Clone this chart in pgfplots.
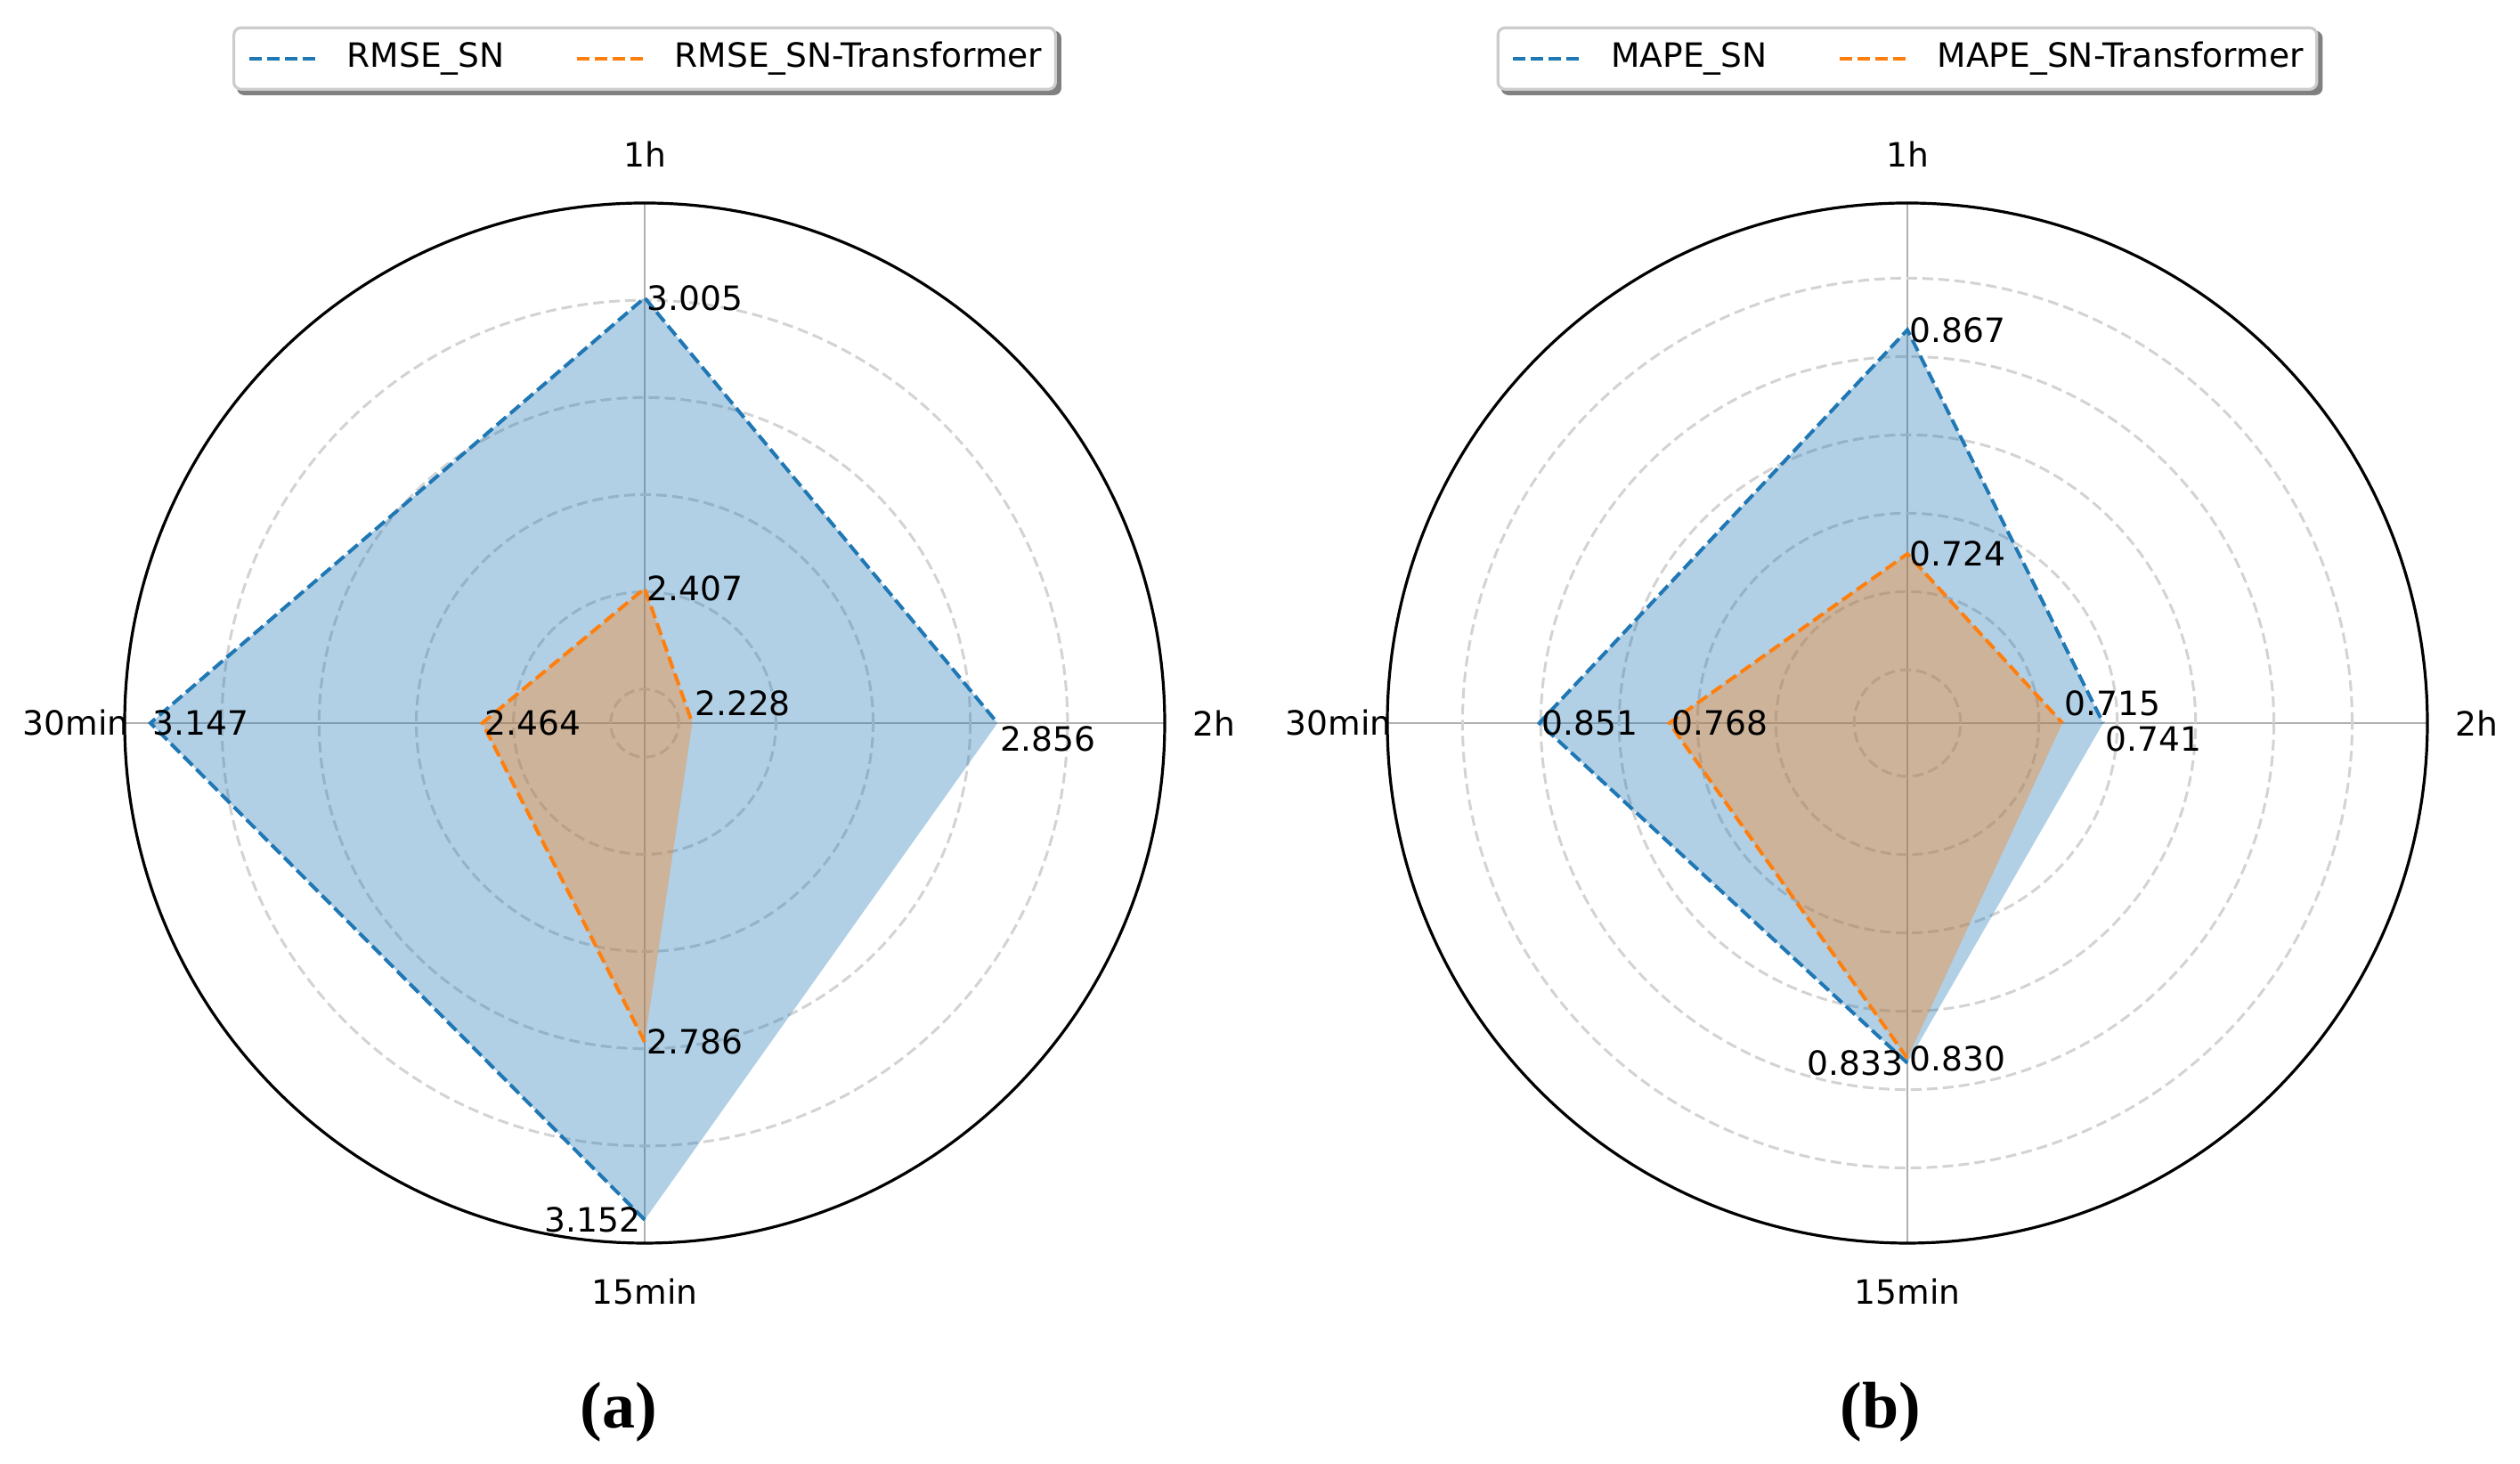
\documentclass[border=0pt]{standalone}
\usepackage{pgfplots}
\pgfplotsset{compat=1.18}
\usepgfplotslibrary{polar}
\usetikzlibrary{backgrounds}
\usepackage{fontspec}
\setmainfont{DejaVu Sans}
\newfontfamily\capfont{Liberation Serif}
\definecolor{tabblue}{HTML}{1F77B4}
\definecolor{taborange}{HTML}{FF7F0E}
\definecolor{spoke}{HTML}{B0B0B0}
\definecolor{ring}{HTML}{D3D3D3}
\tikzset{lbl/.style={inner sep=0pt, font=\fontsize{9.4}{11}\selectfont}}
\pgfplotsset{
  radar/.style={
    width=292pt, height=292pt, scale only axis,
    xmin=0, xmax=360,
    xtick={0,90,180,270}, xticklabels={},
    yticklabels={},
    xmajorgrids, ymajorgrids,
    major tick length=0pt,
    x grid style={spoke, line width=0.65pt, solid},
    y grid style={ring, line width=0.75pt, dash pattern=on 3pt off 1.5pt},
    axis line style={black, line width=0.8pt},
    y axis line style={draw=none},
    clip=false,
    font=\fontsize{9.4}{11}\selectfont,
    legend columns=2,
    legend image code/.code={\draw[##1, line width=1pt] (0pt,0pt) -- (18.75pt,0pt);},
    legend style={at={(0.5,1.108)}, anchor=south, draw=black!20, line width=0.8pt,
      rounded corners=2pt, fill=white, inner xsep=3.75pt, inner ysep=3.75pt,
      font=\fontsize{9.4}{11}\selectfont,
      nodes={inner sep=0pt, text height=7.25pt, text depth=2.5pt},
      /tikz/every odd column/.append style={column sep=8.25pt},
      /tikz/every even column/.append style={column sep=19.75pt}},
  },
  snline/.style={tabblue, line width=1pt, dash pattern=on 3.5pt off 1.5pt},
  trline/.style={taborange, line width=1pt, dash pattern=on 3.5pt off 1.5pt},
}
\begin{document}
\begin{tikzpicture}
\useasboundingbox (0,0) rectangle (707.5pt,411pt);
% ---------------- (a) RMSE ----------------
\begin{polaraxis}[radar, at={(181pt,208pt)}, anchor=center,
  legend style={name=legA},
  ymin=2.13, ymax=3.20,
  y coord trafo/.code={\pgfmathparse{#1-2.13}},
  y coord inv trafo/.code={\pgfmathparse{#1+2.13}},
  ytick={2.2,2.4,2.6,2.8,3.0}]
\addplot[draw=none, fill=tabblue, fill opacity=0.35, forget plot] coordinates {(90,3.005) (0,2.856) (270,3.152) (180,3.147)};
\addplot[draw=none, fill=taborange, fill opacity=0.35, forget plot] coordinates {(90,2.407) (0,2.228) (270,2.786) (180,2.464)};
\addplot[snline] coordinates {(270,3.152) (180,3.147) (90,3.005) (0,2.856)};
\addlegendentry{RMSE\_SN}
\addplot[trline] coordinates {(270,2.786) (180,2.464) (90,2.407) (0,2.228)};
\addlegendentry{RMSE\_SN-Transformer}
\node[lbl, anchor=west, xshift=0.5pt] at (axis cs:90,3.005) {3.005};
\node[lbl, anchor=north west, xshift=0.5pt, yshift=-0.6pt] at (axis cs:0,2.856) {2.856};
\node[lbl, anchor=east, xshift=-1pt] at (axis cs:270,3.152) {3.152};
\node[lbl, anchor=west, xshift=0.5pt] at (axis cs:180,3.147) {3.147};
\node[lbl, anchor=west, xshift=0.5pt] at (axis cs:90,2.407) {2.407};
\node[lbl, anchor=base west, xshift=0.5pt, yshift=2pt] at (axis cs:0,2.228) {2.228};
\node[lbl, anchor=west, xshift=0.5pt] at (axis cs:270,2.786) {2.786};
\node[lbl, anchor=west, xshift=0.5pt] at (axis cs:180,2.464) {2.464};
\node[lbl, yshift=13.75pt] at (axis cs:90,3.20) {1h};
\node[lbl, xshift=13.75pt] at (axis cs:0,3.20) {2h};
\node[lbl, yshift=-13.75pt] at (axis cs:270,3.20) {15min};
\node[lbl, xshift=-13.75pt] at (axis cs:180,3.20) {30min};
\end{polaraxis}
% ---------------- (b) MAPE ----------------
\begin{polaraxis}[radar, at={(535.5pt,208pt)}, anchor=center,
  legend style={name=legB},
  ymin=0.616, ymax=0.948,
  y coord trafo/.code={\pgfmathparse{#1-0.616}},
  y coord inv trafo/.code={\pgfmathparse{#1+0.616}},
  ytick={0.65,0.70,0.75,0.80,0.85,0.90}]
\addplot[draw=none, fill=tabblue, fill opacity=0.35, forget plot] coordinates {(90,0.867) (0,0.741) (270,0.833) (180,0.851)};
\addplot[draw=none, fill=taborange, fill opacity=0.35, forget plot] coordinates {(90,0.724) (0,0.715) (270,0.830) (180,0.768)};
\addplot[snline] coordinates {(270,0.833) (180,0.851) (90,0.867) (0,0.741)};
\addlegendentry{MAPE\_SN}
\addplot[trline] coordinates {(270,0.830) (180,0.768) (90,0.724) (0,0.715)};
\addlegendentry{MAPE\_SN-Transformer}
\node[lbl, anchor=west, xshift=0.5pt] at (axis cs:90,0.867) {0.867};
\node[lbl, anchor=north west, xshift=0.5pt, yshift=-0.6pt] at (axis cs:0,0.741) {0.741};
\node[lbl, anchor=east, xshift=-1pt] at (axis cs:270,0.833) {0.833};
\node[lbl, anchor=west, xshift=0.5pt] at (axis cs:180,0.851) {0.851};
\node[lbl, anchor=west, xshift=0.5pt] at (axis cs:90,0.724) {0.724};
\node[lbl, anchor=base west, xshift=0.5pt, yshift=2pt] at (axis cs:0,0.715) {0.715};
\node[lbl, anchor=west, xshift=0.5pt] at (axis cs:270,0.830) {0.830};
\node[lbl, anchor=west, xshift=0.5pt] at (axis cs:180,0.768) {0.768};
\node[lbl, yshift=13.75pt] at (axis cs:90,0.948) {1h};
\node[lbl, xshift=13.75pt] at (axis cs:0,0.948) {2h};
\node[lbl, yshift=-13.75pt] at (axis cs:270,0.948) {15min};
\node[lbl, xshift=-13.75pt] at (axis cs:180,0.948) {30min};
\end{polaraxis}
\begin{scope}[on background layer]
\foreach \L in {legA,legB}{
  \fill[black!50, rounded corners=2pt] ([shift={(1.25pt,-1.25pt)}]\L.south west) rectangle ([shift={(1.25pt,-1.25pt)}]\L.north east);
}
\end{scope}
\node[anchor=base] at (173.75pt,10pt) {\fontsize{18.5}{22}\selectfont\capfont\bfseries (a)};
\node[anchor=base] at (528pt,10pt) {\fontsize{18.5}{22}\selectfont\capfont\bfseries (b)};
\end{tikzpicture}
\end{document}
